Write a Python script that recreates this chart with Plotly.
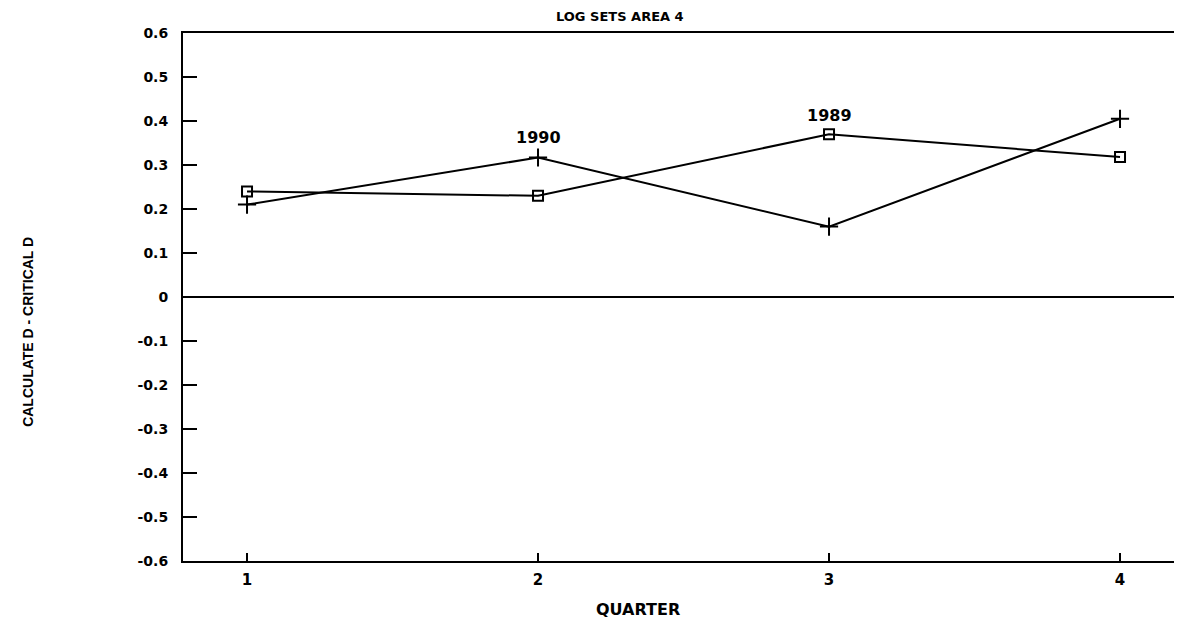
import plotly.graph_objects as go

quarters = [1, 2, 3, 4]
series_1990 = [0.21, 0.317, 0.16, 0.405]
series_1989 = [0.24, 0.23, 0.37, 0.318]
y_ticks = [0.6, 0.5, 0.4, 0.3, 0.2, 0.1, 0, -0.1, -0.2, -0.3, -0.4, -0.5, -0.6]
y_tick_labels = ["0.6", "0.5", "0.4", "0.3", "0.2", "0.1", "0", "-0.1", "-0.2", "-0.3", "-0.4", "-0.5", "-0.6"]
x_tick_labels = ["1", "2", "3", "4"]

FONT = "DejaVu Sans"
NARROW = "Liberation Sans"
fig = go.Figure()
fig.add_trace(go.Scatter(
    x=quarters, y=series_1990, mode="lines+markers", name="1990",
    line=dict(color="black", width=2),
    marker=dict(symbol="cross-thin", size=13, line=dict(color="black", width=2)),
))
fig.add_trace(go.Scatter(
    x=quarters, y=series_1989, mode="lines+markers", name="1989",
    line=dict(color="black", width=2),
    marker=dict(symbol="square-open", size=10, color="black", line=dict(color="black", width=2)),
))

fig.add_annotation(x=quarters[1], y=series_1990[1], text="1990", showarrow=False,
                   yshift=20, font=dict(family=FONT, size=16, color="black", weight="bold"))
fig.add_annotation(x=quarters[2], y=series_1989[2], text="1989", showarrow=False,
                   yshift=19, font=dict(family=FONT, size=16, color="black", weight="bold"))

fig.add_annotation(x=0.437, y=1.0, xref="paper", yref="paper", yanchor="bottom", yshift=7,
                   text="LOG SETS AREA 4", showarrow=False,
                   font=dict(family=FONT, size=13, color="black", weight="bold"))
fig.add_annotation(x=0.455, y=0, xref="paper", yref="paper", yanchor="middle", yshift=-48,
                   text="QUARTER", showarrow=False,
                   font=dict(family=FONT, size=16, color="black", weight="bold"))
fig.add_annotation(x=0, y=0.434, xref="paper", yref="paper", xanchor="center", xshift=-155,
                   text="CALCULATE D - CRITICAL D", showarrow=False, textangle=-90,
                   font=dict(family=NARROW, size=14, color="black", weight="bold"))

fig.update_layout(
    width=1174, height=613,
    margin=dict(l=175, r=0, t=25, b=60),
    paper_bgcolor="white", plot_bgcolor="white",
    showlegend=False,
    font=dict(family=FONT, color="black"),
    xaxis=dict(
        range=[0.78, 4.213], tickvals=quarters, ticktext=x_tick_labels,
        ticks="inside", ticklen=8, tickwidth=2, tickcolor="black",
        showline=True, linecolor="black", linewidth=2, mirror=True,
        showgrid=False, zeroline=False, automargin=False,
        tickfont=dict(family=FONT, size=15, color="black", weight="bold"),
        ticklabelstandoff=4,
    ),
    yaxis=dict(
        range=[-0.6, 0.6], tickvals=y_ticks, ticktext=y_tick_labels,
        ticks="inside", ticklen=14, tickwidth=2, tickcolor="black",
        showline=True, linecolor="black", linewidth=2,
        showgrid=False, zeroline=True, zerolinecolor="black", zerolinewidth=2,
        automargin=False,
        tickfont=dict(family=FONT, size=14, color="black", weight="bold"),
        ticklabelstandoff=10,
    ),
)

fig.write_html("out.html")
